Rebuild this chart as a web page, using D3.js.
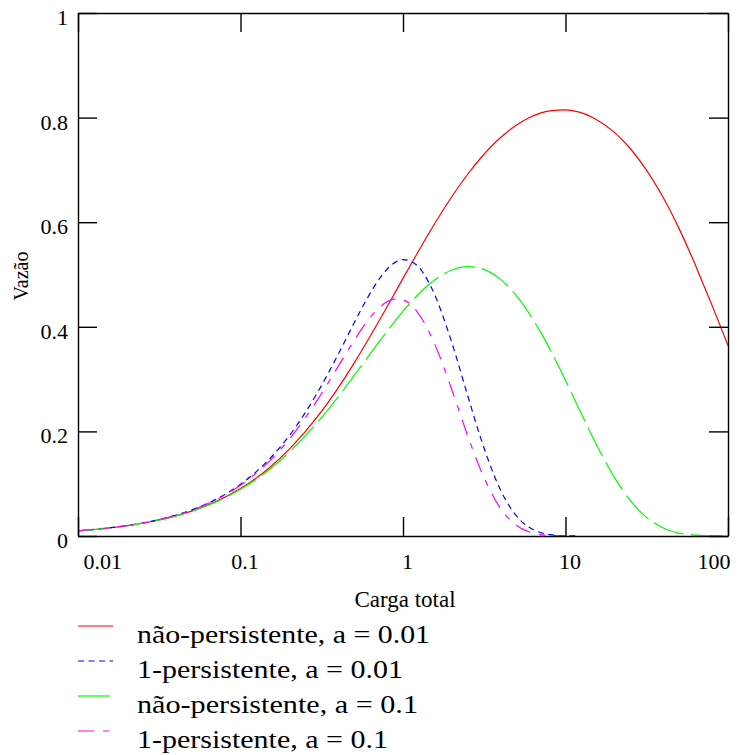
<!DOCTYPE html>
<html>
<head>
<meta charset="utf-8">
<script src="https://cdn.jsdelivr.net/npm/d3@7"></script>
<style>
  body { margin: 0; background: #fff; }
  svg { display: block; }
  svg text { font-family: "Liberation Serif", "Times New Roman", serif; fill: #000; }
</style>
</head>
<body>
<svg id="chart" width="739" height="755"></svg>
<script>
// carga total G (eixo x, log)
const cargas = [0.01, 0.015, 0.02, 0.03, 0.05, 0.07, 0.1, 0.15, 0.2, 0.3, 0.4, 0.5, 0.6, 0.7, 0.8, 0.9, 1, 1.2, 1.5, 2, 2.5, 3, 4, 5, 6, 7, 8, 10, 12, 15, 20, 25, 30, 40, 50, 60, 70, 80, 100];

// vazão, uma lista por curva
const naoPersist001 = [0.0099, 0.0148, 0.0196, 0.0291, 0.0476, 0.0653, 0.0907, 0.1301, 0.1661, 0.2295, 0.2838, 0.3306, 0.3714, 0.4072, 0.4389, 0.4672, 0.4926, 0.5360, 0.5875, 0.6491, 0.6917, 0.7223, 0.7624, 0.7860, 0.8002, 0.8085, 0.8130, 0.8148, 0.8108, 0.7989, 0.7717, 0.7409, 0.7091, 0.6466, 0.5877, 0.5333, 0.4835, 0.4400, 0.3640];
const umPersist001 = [0.0100, 0.0150, 0.0200, 0.0300, 0.0498, 0.0696, 0.0989, 0.1465, 0.1921, 0.2760, 0.3480, 0.4072, 0.4535, 0.4876, 0.5105, 0.5237, 0.5286, 0.5192, 0.4742, 0.3692, 0.2686, 0.1882, 0.0867, 0.0380, 0.0161, 0.0067, 0.0027, 0.0004, 0.0001];
const naoPersist01 = [0.0099, 0.0147, 0.0195, 0.0290, 0.0472, 0.0645, 0.0892, 0.1268, 0.1607, 0.2188, 0.2667, 0.3066, 0.3400, 0.3682, 0.3922, 0.4125, 0.4299, 0.4574, 0.4852, 0.5087, 0.5152, 0.5119, 0.4902, 0.4590, 0.4250, 0.3907, 0.3577, 0.2975, 0.2459, 0.1837, 0.1122, 0.0682, 0.0414, 0.0153, 0.0056, 0.0021, 0.0008, 0.0003, 0.0000];
const umPersist01 = [0.0100, 0.0150, 0.0199, 0.0298, 0.0494, 0.0687, 0.0971, 0.1426, 0.1854, 0.2618, 0.3247, 0.3738, 0.4099, 0.4342, 0.4481, 0.4534, 0.4515, 0.4321, 0.3803, 0.2793, 0.1919, 0.1269, 0.0519, 0.0202, 0.0076, 0.0028, 0.0010, 0.0001];

const xTicks = [0.01, 0.1, 1, 10, 100];
const yTicks = [0, 0.2, 0.4, 0.6, 0.8, 1];
const legendLabels = ['não-persistente, a = 0.01', '1-persistente, a = 0.01', 'não-persistente, a = 0.1', '1-persistente, a = 0.1'];

const series = [
  {values: naoPersist001, color: '#ff0000', dash: null},
  {values: umPersist001, color: '#0000ff', dash: '6,4.5'},
  {values: naoPersist01, color: '#00ff00', dash: '32,7'},
  {values: umPersist01, color: '#ff00ff', dash: '16,9,6,9'}
];

const margin = {left: 78, top: 13, right: 11, bottom: 219};
const svg = d3.select('#chart');
const W = +svg.attr('width'), H = +svg.attr('height');

const x = d3.scaleLog().domain([0.01, 100]).range([margin.left, W - margin.right]);
const y = d3.scaleLinear().domain([0, 1]).range([H - margin.bottom, margin.top]);

const line = d3.line()
  .x((d, i) => x(cargas[i]))
  .y(d => y(d))
  .curve(d3.curveMonotoneX);

// curvas
svg.append('g').attr('class', 'curves')
  .selectAll('path')
  .data(series)
  .join('path')
    .attr('d', d => line(d.values))
    .attr('fill', 'none')
    .attr('stroke', d => d.color)
    .attr('stroke-width', 1.2)
    .attr('stroke-dasharray', d => d.dash);

// moldura + ticks internos
const fmt = d => String(d);
const axBottom = svg.append('g')
  .attr('transform', `translate(0,${y(0)})`)
  .call(d3.axisBottom(x).tickValues(xTicks).tickFormat(fmt).tickSizeInner(-19).tickSizeOuter(0).tickPadding(17));
const axTop = svg.append('g')
  .attr('transform', `translate(0,${y(1)})`)
  .call(d3.axisTop(x).tickValues(xTicks).tickFormat('').tickSizeInner(-19).tickSizeOuter(0));
const axLeft = svg.append('g')
  .attr('transform', `translate(${x(0.01)},0)`)
  .call(d3.axisLeft(y).tickValues(yTicks).tickFormat(fmt).tickSizeInner(-19).tickSizeOuter(0).tickPadding(10));
const axRight = svg.append('g')
  .attr('transform', `translate(${x(100)},0)`)
  .call(d3.axisRight(y).tickValues(yTicks).tickFormat('').tickSizeInner(-19).tickSizeOuter(0));

[axBottom, axTop, axLeft, axRight].forEach(g => {
  g.attr('font-family', null).attr('font-size', 22);
  g.selectAll('path.domain').attr('stroke', '#000').attr('stroke-width', 1.4);
  g.selectAll('.tick line').attr('stroke', '#000').attr('stroke-width', 1.4);
});

axBottom.selectAll('.tick text')
  .attr('dx', 4)
  .attr('text-anchor', d => d === 0.01 ? 'start' : d === 100 ? 'end' : 'middle')
  .attr('x', d => d === 0.01 ? 1 : d === 100 ? -2 : 0);
axLeft.selectAll('.tick text').attr('dy', '0.52em');

// títulos dos eixos
svg.append('text')
  .attr('transform', `translate(28,276) rotate(-90)`)
  .attr('text-anchor', 'middle')
  .attr('font-size', 20)
  .text('Vazão');
svg.append('text')
  .attr('x', 405).attr('y', 607)
  .attr('text-anchor', 'middle')
  .attr('font-size', 23)
  .text('Carga total');

// legenda
const legendWidths = [293, 266, 281, 251];
const leg = svg.append('g').attr('class', 'legend')
  .selectAll('g')
  .data(series)
  .join('g')
    .attr('transform', (d, i) => `translate(78,${626 + i * 35})`);
leg.append('line')
  .attr('x1', 0).attr('x2', 35)
  .attr('stroke', d => d.color)
  .attr('stroke-width', 1.2)
  .attr('stroke-dasharray', d => d.dash);
leg.append('text')
  .attr('x', 59).attr('y', 17)
  .attr('font-size', 26)
  .attr('textLength', (d, i) => legendWidths[i])
  .attr('lengthAdjust', 'spacingAndGlyphs')
  .text((d, i) => legendLabels[i]);
</script>
</body>
</html>
